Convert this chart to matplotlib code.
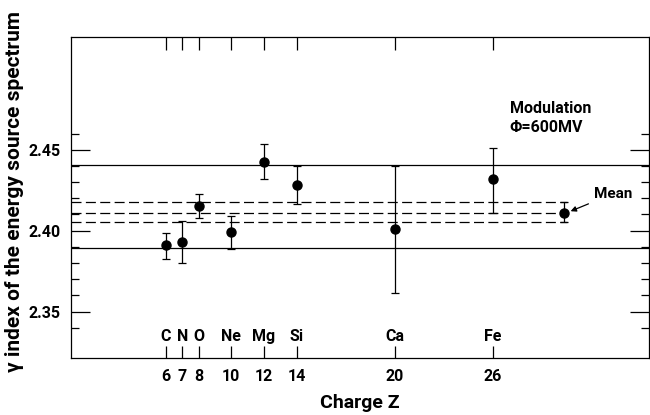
import matplotlib
matplotlib.use("Agg")
import matplotlib.pyplot as plt
import numpy as np

# Data
elements = ["C", "N", "O", "Ne", "Mg", "Si", "Ca", "Fe"]
charge_z = [6, 7, 8, 10, 12, 14, 20, 26]
gamma = [2.3912, 2.3928, 2.4152, 2.3992, 2.4426, 2.4280, 2.4009, 2.4319]
err_low = [2.3823, 2.3799, 2.4080, 2.3885, 2.4317, 2.4163, 2.3614, 2.4111]
err_high = [2.3986, 2.4060, 2.4225, 2.4091, 2.4533, 2.4399, 2.4400, 2.4513]

mean_z = 30.4
mean_val = 2.4112
mean_low = 2.4053
mean_high = 2.4175

band_low = 2.3895
band_high = 2.4403

plt.rcParams['font.family'] = ['Roboto', 'DejaVu Sans']
plt.rcParams['font.weight'] = 'bold'
plt.rcParams['axes.labelweight'] = 'bold'

fig = plt.figure(figsize=(6.5, 4.15), dpi=100)
ax = fig.add_axes([70.7 / 650, 56.7 / 415, (649 - 70.7) / 650, (358.3 - 37.3) / 415])

xlim = (0.164, 35.58)
ax.set_xlim(*xlim)
ax.set_ylim(2.3212, 2.5194)

# solid band limits
ax.axhline(band_high, color='black', lw=0.9)
ax.axhline(band_low, color='black', lw=0.9)

# dashed mean lines, up to the mean point
for v in [mean_low, mean_val, mean_high]:
    ax.plot([xlim[0], mean_z + 0.17], [v, v], color='black', lw=0.9,
            dashes=(8, 3.5))

gamma = np.array(gamma)
yerr = [gamma - np.array(err_low), np.array(err_high) - gamma]
ax.errorbar(charge_z, gamma, yerr=yerr, fmt='o', color='black', ms=6.5,
            elinewidth=0.9, capsize=3, capthick=0.9)
ax.errorbar([mean_z], [mean_val], yerr=[[mean_val - mean_low], [mean_high - mean_val]],
            fmt='o', color='black', ms=6.5, elinewidth=0.9, capsize=3, capthick=0.9)

ax.annotate("Mean", xy=(mean_z + 0.3, mean_val + 0.0005), xytext=(mean_z + 1.8, 2.4228),
            fontsize=11, va='center', ha='left',
            arrowprops=dict(arrowstyle='-|>', color='black', lw=0.9,
                            mutation_scale=8, shrinkA=2, shrinkB=1))

# element labels
for z, el in zip(charge_z, elements):
    ax.text(z, 2.3346, el, ha='center', va='center', fontsize=11.5)

ax.text(27.05, 2.4755, "Modulation", fontsize=11.5, va='center', ha='left')
ax.text(27.05, 2.4635, "Φ=600MV", fontsize=11.5, va='center', ha='left')

# ticks
ax.set_xticks(charge_z)
ax.set_xticklabels([str(z) for z in charge_z])
ax.set_yticks([2.35, 2.40, 2.45])
ax.set_yticklabels(["2.35", "2.40", "2.45"])
ax.set_yticks(np.arange(2.34, 2.465, 0.01), minor=True)
ax.tick_params(axis='both', which='major', direction='in', labelsize=11.5,
               top=True, right=True, width=0.9, color='black')
ax.tick_params(axis='x', which='major', length=9, pad=8)
ax.tick_params(axis='y', which='major', length=14, pad=7)
ax.tick_params(axis='y', which='minor', direction='in', length=6, width=0.9,
               right=True)
ax.tick_params(axis='x', which='minor', bottom=False, top=False)

for s in ax.spines.values():
    s.set_linewidth(0.9)

ax.set_xlabel("Charge Z", fontsize=14, labelpad=7)
fig.text(15 / 650, 1 - 191 / 415, "γ index of the energy source spectrum",
         rotation=90, ha='center', va='center', fontsize=15)

fig.savefig("out.png", dpi=100)
